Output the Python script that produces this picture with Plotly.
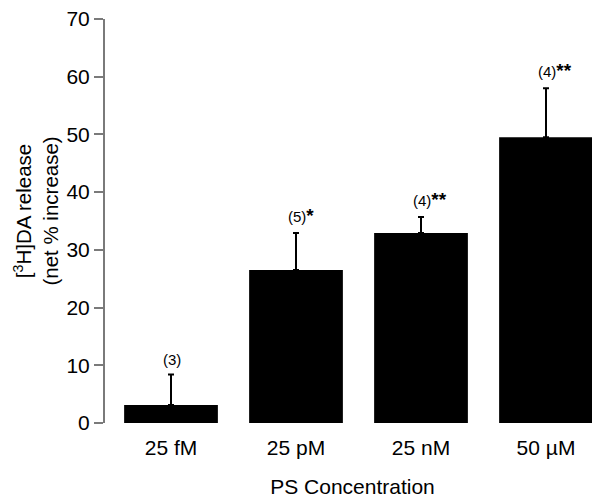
import plotly.graph_objects as go

# Data
concentrations = ['25 fM', '25 pM', '25 nM', '50 µM']
release = [3.1, 26.5, 32.9, 49.5]
sem = [5.3, 6.4, 2.8, 8.5]
n_labels = ['(3)', '(5)', '(4)', '(4)']
stars = ['', '*', '**', '**']

FONT = 'Arial, Liberation Sans, Helvetica, sans-serif'

fig = go.Figure()
fig.add_trace(go.Bar(
    x=concentrations,
    y=release,
    marker=dict(color='black', line=dict(width=0)),
    error_y=dict(
        type='data',
        array=sem,
        arrayminus=[0] * len(sem),
        symmetric=False,
        color='black',
        thickness=2,
        width=3,
    ),
    showlegend=False,
))

# n and significance labels above error bars
for c, v, e, n, s in zip(concentrations, release, sem, n_labels, stars):
    txt = n + (f'<b><span style="font-size:19px">{s}</span></b>' if s else '')
    fig.add_annotation(
        x=c, y=v + e, text=txt, showarrow=False,
        xanchor='left', yanchor='bottom', xshift=-10, yshift=5,
        font=dict(family=FONT, size=15, color='black'),
    )

# y title as annotation for finer placement
fig.add_annotation(
    xref='paper', yref='paper', x=-0.14, y=0.525,
    text='[<sup>3</sup>H]DA release<br>(net % increase)',
    textangle=-90, showarrow=False, xanchor='center', yanchor='middle',
    font=dict(family=FONT, size=20.5, color='black'),
)

# the page body adds ~8px offset, so margins are shifted up/left by that
fig.update_layout(
    width=600, height=502,
    margin=dict(l=97, r=8, t=11, b=87),
    plot_bgcolor='white', paper_bgcolor='white',
    bargap=0.25,
    font=dict(family=FONT, color='black'),
    xaxis=dict(
        range=[-0.528, 3.432],
        showline=False, showgrid=False, zeroline=False, ticks='',
        tickfont=dict(size=21),
        ticklabelstandoff=10,
        title=dict(text='PS Concentration', font=dict(size=21), standoff=21),
    ),
    yaxis=dict(
        range=[0, 70], tickvals=[0, 10, 20, 30, 40, 50, 60, 70],
        showline=True, linecolor='#7a7a7a', linewidth=2,
        ticks='outside', ticklen=9, tickwidth=2, tickcolor='#7a7a7a',
        showgrid=False, zeroline=False,
        tickfont=dict(size=21),
        ticklabeloverflow='allow',
        automargin=False,
    ),
)

fig.write_html('out.html')
